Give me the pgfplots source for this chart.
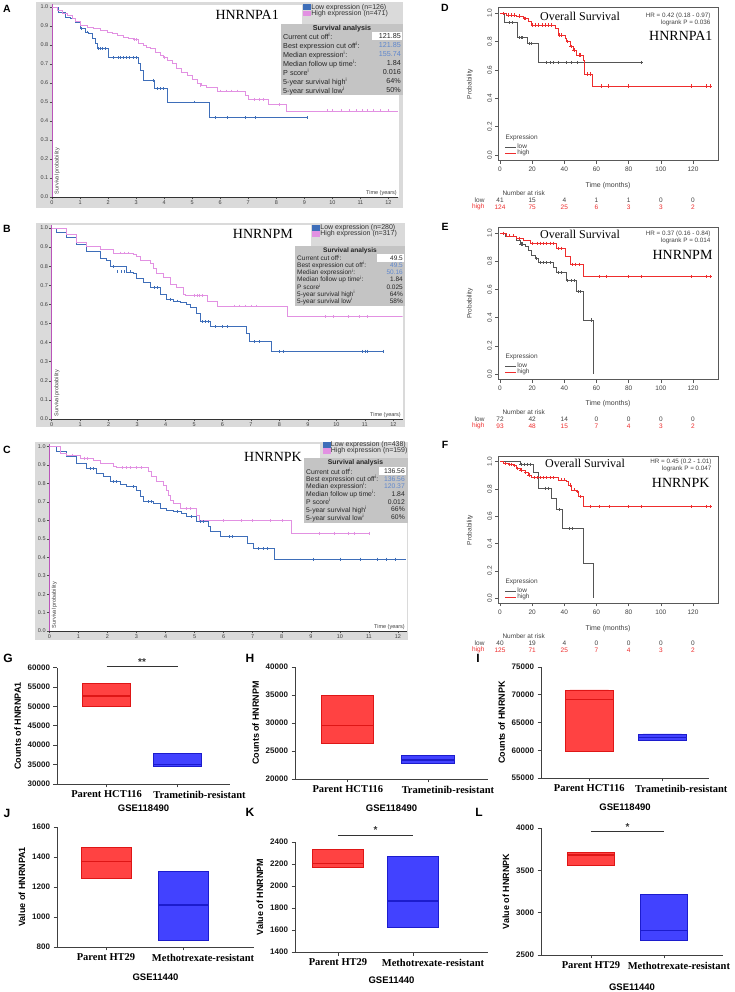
\documentclass[border=0pt]{standalone}
\usepackage{fontspec}
\setmainfont{Liberation Sans}
\newfontfamily\tnr{Liberation Serif}
\usepackage{pgfplots}
\pgfplotsset{compat=1.18}
\usepgfplotslibrary{statistics}

\definecolor{kmbg}{RGB}{218,218,218}
\definecolor{kmtab}{RGB}{196,196,196}
\definecolor{kmblue}{RGB}{62,110,185}
\definecolor{kmpink}{RGB}{226,145,226}
\definecolor{kmaxisp}{RGB}{185,85,185}
\definecolor{valblue}{RGB}{95,135,205}
\definecolor{rgray}{RGB}{85,85,85}
\definecolor{rred}{RGB}{238,45,45}
\definecolor{bxred}{RGB}{255,66,66}
\definecolor{bxredl}{RGB}{222,22,22}
\definecolor{bxblue}{RGB}{66,66,255}
\definecolor{bxbluel}{RGB}{28,28,205}

\newcommand{\fs}[1]{\fontsize{#1}{#1}\selectfont}
\newcommand{\supi}{\textsuperscript{i}}
\newcommand{\trow}[3]{\node[anchor=west,font=\fs{\tbF},text=black!85,inner sep=0pt] at (\tbL,#1) {#2};\node[anchor=east,font=\fs{\tbF},text=black!85,inner sep=0pt] at (\tbR,#1) {#3};}
\newcommand{\riskrow}[9]{\foreach \xx/\vv in {500/#3,532.2/#4,564.3/#5,596.5/#6,628.6/#7,660.8/#8,693/#9}{\node[font=\fs{6.5},text=#2] at (\xx,#1) {\vv};}}

\pgfplotsset{
  kmax/.style={
    scale only axis, anchor=south west, xmin=0, ymin=0, ymax=1.015,
    axis x line=bottom, axis y line=left,
    axis line style={-},
    x axis line style={-, black!80, line width=0.6pt},
    y axis line style={-, kmaxisp, line width=0.9pt},
    xtick={0,1,2,3,4,5,6,7,8,9,10,11,12},
    ytick={0,0.1,0.2,0.3,0.4,0.5,0.6,0.7,0.8,0.9,1.0},
    tick align=outside, major tick length=2.5pt,
    tick style={black!70, line width=0.5pt},
    tick label style={font=\fs{5.5}, text=black!75, inner sep=1pt},
    yticklabel style={/pgf/number format/.cd, fixed, fixed zerofill, precision=1},
    /pgf/number format/assume math mode=true,
    legend style={draw=none, fill=none, font=\fs{7}, inner sep=0pt, row sep=-1.5pt,
      nodes={inner sep=0.5pt, text=black!80}},
    legend cell align=left,
    legend image code/.code={\fill[##1] (0pt,-2.4pt) rectangle (7pt,2.4pt);},
  },
  kmlo/.style={const plot, color=kmblue, line width=0.7pt, mark=none},
  kmhi/.style={const plot, color=kmpink, line width=0.7pt, mark=none},
  kmcen/.style={only marks, mark=|, mark size=1.4pt, mark options={line width=0.5pt}, forget plot},
  rax/.style={scale only axis, anchor=south west, width=219.5pt,
    xmin=-1, xmax=135.5, ymin=-0.04, ymax=1.04,
    xtick={0,20,40,60,80,100,120}, ytick={0,0.2,0.4,0.6,0.8,1.0},
    tick pos=left,
    axis line style={black!65, line width=0.6pt},
    tick align=outside, major tick length=3pt,
    tick style={black!65, line width=0.5pt},
    tick label style={font=\fs{6.5}, text=black!75},
    yticklabel style={rotate=90, anchor=south, /pgf/number format/.cd, fixed, fixed zerofill, precision=1},
    /pgf/number format/assume math mode=true,
    legend style={draw=none, fill=none, font=\fs{6.5}, inner sep=0pt, row sep=-1.5pt,
      nodes={inner sep=0.5pt, text=black!75}},
    legend cell align=left,
    legend image code/.code={\draw[##1, line width=0.6pt] (0pt,0pt) -- (11pt,0pt);},
  },
  rlo/.style={const plot, color=rgray, line width=0.6pt, mark=none},
  rhi/.style={const plot, color=rred, line width=0.6pt, mark=none},
  rcen/.style={only marks, mark=+, mark size=1.6pt, mark options={line width=0.5pt}, forget plot},
  boxax/.style={scale only axis, anchor=south west,
    axis x line=bottom, axis y line=left,
    axis line style={-, black!75, line width=0.8pt},
    xtick={1}, extra x ticks={2},
    tick align=outside, major tick length=3.5pt,
    tick style={black!75, line width=0.8pt},
    xticklabel style={font=\tnr\bfseries\fs{10.5}, text=black},
    scaled y ticks=false,
    yticklabel style={font=\bfseries\fs{8}, text=black!90, /pgf/number format/.cd, fixed, 1000 sep={}},
    /pgf/number format/assume math mode=true,
    xlabel style={font=\bfseries\fs{9.5}, at={(axis description cs:0.5,0)}, anchor=center},
    ylabel style={font=\bfseries\fs{9}},
    clip=false,
    boxplot/draw direction=y,
    boxplot/every median/.style={line width=1.4pt},
  },
  rbox/.style={fill=bxred, draw=bxredl, line width=0.9pt},
  bbox/.style={fill=bxblue, draw=bxbluel, line width=0.9pt},
}

\begin{document}
\begin{tikzpicture}
\path[use as bounding box] (0pt,0pt) rectangle (735pt,992pt);
\begin{scope}[x=1pt,y=1pt]
\fill[kmbg] (36,784) rectangle (403,990);
\fill[white] (52,795) rectangle (399,987);
\fill[kmbg] (302,968) rectangle (403,990);
\fill[kmbg] (36,565) rectangle (405,769);
\fill[white] (51.7,573) rectangle (403,767);
\fill[kmbg] (311,746) rectangle (405,769);
\fill[kmbg] (35,352) rectangle (408,550);
\fill[white] (49.3,361) rectangle (407,548);
\fill[kmbg] (320,534) rectangle (408,550);
\end{scope}

% ---------------- A
\begin{axis}[kmax, at={(52pt,795pt)}, width=346pt, height=192.9pt, xmax=12.34,
  legend style={at={(axis description cs:0.7254,1.0044)}, anchor=north west}]
\addplot[kmlo] coordinates {(0,1) (0.24,0.974) (0.48,0.947) (0.65,0.939) (0.83,0.921) (1.01,0.886) (1.19,0.868) (1.31,0.860) (1.43,0.833) (1.54,0.807) (1.60,0.781) (2.02,0.733) (3.09,0.702) (3.15,0.667) (3.27,0.614) (3.66,0.570) (4.10,0.500) (5.62,0.418) (9.09,0.418)};
\addlegendentry{Low expression (n=126)}
\addplot[kmhi] coordinates {(0,1) (0.18,0.982) (0.36,0.965) (0.53,0.956) (0.71,0.939) (0.83,0.926) (1.01,0.904) (1.25,0.895) (1.48,0.886) (1.72,0.877) (1.96,0.868) (2.14,0.860) (2.32,0.851) (2.55,0.842) (2.73,0.833) (2.91,0.828) (3.09,0.807) (3.27,0.798) (3.38,0.789) (3.50,0.781) (3.68,0.763) (3.86,0.746) (3.98,0.733) (4.10,0.719) (4.28,0.702) (4.45,0.675) (4.63,0.658) (4.81,0.640) (4.99,0.618) (5.17,0.596) (5.34,0.588) (5.52,0.575) (5.88,0.558) (6.89,0.535) (7.01,0.514) (7.72,0.488) (8.35,0.453) (12.34,0.453)};
\addlegendentry{High expression (n=471)}
\addplot[kmcen, color=kmblue] coordinates {(1.05,0.886) (1.25,0.868) (1.65,0.781) (1.72,0.781) (1.8,0.781) (1.9,0.781) (2.2,0.733) (2.35,0.733) (2.45,0.733) (2.55,0.733) (2.65,0.733) (2.75,0.733) (2.9,0.733) (3.0,0.733) (3.62,0.614) (3.75,0.570) (3.85,0.570) (3.95,0.570) (5.08,0.500) (5.82,0.418) (6.24,0.418) (6.89,0.418) (7.24,0.418) (9.09,0.418)};
\addplot[kmcen, color=kmpink] coordinates {(2.95,0.828) (3.02,0.828) (4.0,0.733) (4.6,0.658) (5.3,0.588) (6.0,0.558) (6.2,0.558) (6.4,0.558) (6.6,0.558) (7.2,0.514) (7.4,0.514) (7.55,0.514) (8.1,0.488) (9.8,0.453) (10.0,0.453) (10.3,0.453) (10.6,0.453) (10.85,0.453) (11.05,0.453) (11.25,0.453) (11.45,0.453) (11.7,0.453) (12.0,0.453)};
\end{axis}

% ---------------- B
\begin{axis}[kmax, at={(51.7pt,573pt)}, width=351pt, height=193.9pt, xmax=12.33,
  legend style={at={(axis description cs:0.7416,1.0083)}, anchor=north west}]
\addplot[kmlo] coordinates {(0,1) (0.18,0.977) (0.53,0.950) (0.88,0.914) (1.23,0.878) (1.70,0.842) (1.93,0.833) (2.05,0.797) (2.63,0.770) (2.87,0.761) (2.99,0.734) (3.22,0.716) (3.45,0.689) (3.81,0.653) (4.04,0.627) (4.27,0.618) (4.51,0.609) (4.74,0.600) (4.86,0.582) (5.09,0.555) (5.21,0.510) (5.59,0.483) (6.85,0.447) (6.94,0.406) (7.73,0.354) (11.65,0.354)};
\addlegendentry{Low expression (n=280)}
\addplot[kmhi] coordinates {(0,1) (0.53,0.968) (0.88,0.923) (1.23,0.905) (1.70,0.887) (2.17,0.869) (2.87,0.860) (2.99,0.851) (3.10,0.833) (3.45,0.815) (3.57,0.788) (3.69,0.761) (3.92,0.743) (4.16,0.707) (4.39,0.689) (4.63,0.653) (4.68,0.648) (5.47,0.618) (5.82,0.591) (8.28,0.537) (12.33,0.537)};
\addlegendentry{High expression (n=317)}
\addplot[kmcen, color=kmblue] coordinates {(2.15,0.797) (2.3,0.770) (2.45,0.770) (2.55,0.770) (2.75,0.770) (3.6,0.689) (3.7,0.689) (4.15,0.627) (4.4,0.618) (5.3,0.510) (5.4,0.510) (5.5,0.510) (5.75,0.483) (6.0,0.483) (6.15,0.483) (7.1,0.406) (7.3,0.406) (8.0,0.354) (8.15,0.354) (10.9,0.354) (11.0,0.354) (11.1,0.354) (11.65,0.354)};
\addplot[kmcen, color=kmpink] coordinates {(2.4,0.869) (2.55,0.869) (2.7,0.869) (5.0,0.648) (5.1,0.648) (5.2,0.648) (5.3,0.648) (6.4,0.591) (6.6,0.591) (6.8,0.591) (7.0,0.591) (7.2,0.591) (9.6,0.537) (9.9,0.537) (10.4,0.537) (10.8,0.537) (11.1,0.537)};
\end{axis}

% ---------------- C
\begin{axis}[kmax, at={(49.3pt,361pt)}, width=357.7pt, height=187.1pt, xmax=12.31,
  legend style={at={(axis description cs:0.7638,1.0155)}, anchor=north west}]
\addplot[kmlo] coordinates {(0,1) (0.25,0.973) (0.60,0.946) (0.94,0.910) (1.28,0.882) (1.63,0.855) (1.86,0.837) (2.09,0.810) (2.43,0.796) (2.66,0.783) (3.00,0.765) (3.12,0.729) (3.23,0.702) (3.58,0.693) (3.81,0.665) (4.04,0.656) (4.27,0.647) (4.55,0.638) (4.72,0.620) (5.07,0.593) (5.47,0.566) (5.53,0.539) (5.87,0.512) (6.81,0.476) (7.02,0.448) (7.73,0.390) (12.29,0.390)};
\addlegendentry{Low expression (n=438)}
\addplot[kmhi] coordinates {(0,1) (0.37,0.964) (0.60,0.955) (1.06,0.937) (1.51,0.928) (1.74,0.910) (2.20,0.892) (2.32,0.886) (3.41,0.864) (3.52,0.837) (3.69,0.810) (3.92,0.792) (4.04,0.765) (4.09,0.738) (4.15,0.711) (4.27,0.693) (4.50,0.665) (5.07,0.629) (5.18,0.599) (8.34,0.530) (11.03,0.530)};
\addlegendentry{High expression (n=159)}
\addplot[kmcen, color=kmblue] coordinates {(1.4,0.882) (1.5,0.882) (2.2,0.810) (2.3,0.810) (2.9,0.783) (3.4,0.702) (3.5,0.702) (4.4,0.647) (4.9,0.620) (5.2,0.593) (5.3,0.593) (6.2,0.512) (6.3,0.512) (7.2,0.448) (7.35,0.448) (7.5,0.448) (9.1,0.390) (10.0,0.390) (10.7,0.390) (11.3,0.390) (11.6,0.390) (11.9,0.390)};
\addplot[kmcen, color=kmpink] coordinates {(0.8,0.955) (1.2,0.937) (1.3,0.937) (2.5,0.886) (2.65,0.886) (2.8,0.886) (3.0,0.886) (3.15,0.886) (4.7,0.665) (4.85,0.665) (6.0,0.599) (6.6,0.599) (7.0,0.599) (7.6,0.599) (8.0,0.599) (9.3,0.530) (9.8,0.530) (10.3,0.530) (10.5,0.530) (11.0,0.530)};
\end{axis}

% ---------------- D
\begin{axis}[rax, at={(498.4pt,831.3pt)}, height=153pt,
  legend style={at={(axis description cs:0.03,0.112)}, anchor=north west}]
\addplot[rlo] coordinates {(0,1) (2.5,0.934) (10.8,0.828) (17.0,0.788) (23.9,0.654) (87.8,0.654)};
\addlegendentry{low}
\addplot[rhi] coordinates {(0,1) (4.1,0.988) (10.4,0.981) (14.5,0.965) (17.6,0.941) (19.7,0.918) (34.3,0.894) (36.3,0.847) (40.5,0.824) (41.5,0.800) (43.6,0.765) (45.7,0.741) (47.7,0.706) (51.9,0.671) (52.3,0.572) (57.6,0.487) (131.2,0.487)};
\addlegendentry{high}
\addplot[rcen, color=rgray] coordinates {(6,0.934) (7.5,0.934) (12,0.828) (13,0.828) (14,0.828) (18,0.788) (19.5,0.788) (29,0.654) (31,0.654) (33,0.654) (36,0.654) (41,0.654) (44,0.654) (48,0.654) (87.8,0.654)};
\addplot[rcen, color=rred] coordinates {(2,1) (5,0.988) (7,0.988) (9,0.988) (12,0.981) (15,0.965) (16,0.965) (20,0.918) (22,0.918) (24,0.918) (26,0.918) (28,0.918) (30,0.918) (32,0.918) (37,0.847) (38,0.847) (42,0.800) (44,0.765) (46,0.741) (49,0.706) (50,0.706) (54,0.572) (56,0.572) (63,0.487) (67,0.487) (79.5,0.487) (119,0.487) (128,0.487) (131,0.487)};
\end{axis}

% ---------------- E
\begin{axis}[rax, at={(498.4pt,612.4pt)}, height=152pt,
  legend style={at={(axis description cs:0.03,0.1125)}, anchor=north west}]
\addplot[rlo] coordinates {(0,1) (3.1,0.981) (10.4,0.953) (12.5,0.924) (15.6,0.905) (17.6,0.877) (19.7,0.846) (21.8,0.822) (23.9,0.791) (33.2,0.758) (35.3,0.720) (41.5,0.664) (47.7,0.585) (51.9,0.384) (57.7,0.0)};
\addlegendentry{low}
\addplot[rhi] coordinates {(0,1) (4.1,0.981) (10.4,0.964) (14.5,0.948) (18.7,0.929) (35.3,0.893) (40.5,0.839) (43.6,0.780) (51.9,0.692) (131.2,0.692)};
\addlegendentry{high}
\addplot[rcen, color=rgray] coordinates {(6,0.981) (8,0.981) (13,0.924) (14,0.924) (22.5,0.822) (25,0.791) (27,0.791) (29,0.791) (31,0.791) (36,0.720) (38,0.720) (42,0.664) (44,0.664) (46,0.664) (48.5,0.585) (50,0.585) (57,0.384)};
\addplot[rcen, color=rred] coordinates {(2,1) (6,0.981) (8,0.981) (12,0.964) (20,0.929) (23,0.929) (25,0.929) (27,0.929) (29,0.929) (31,0.929) (33,0.929) (36.5,0.893) (38,0.893) (45,0.780) (47,0.780) (49,0.780) (62,0.692) (66,0.692) (79.5,0.692) (88,0.692) (119,0.692) (128,0.692) (131,0.692)};
\end{axis}

% ---------------- F
\begin{axis}[rax, at={(498.4pt,388.5pt)}, height=147.2pt,
  legend style={at={(axis description cs:0.03,0.109)}, anchor=north west}]
\addplot[rlo] coordinates {(0,1) (12.5,0.981) (20.8,0.920) (23.9,0.806) (32.2,0.733) (35.3,0.648) (39.0,0.510) (51.9,0.252) (57.7,0.0)};
\addlegendentry{low}
\addplot[rhi] coordinates {(0,1) (2.1,0.988) (5.2,0.981) (8.3,0.971) (10.4,0.951) (12.5,0.939) (15.6,0.920) (17.6,0.903) (19.7,0.883) (36.3,0.867) (41.5,0.854) (42.6,0.830) (44.6,0.794) (47.7,0.782) (48.8,0.745) (51.9,0.672) (131.2,0.672)};
\addlegendentry{high}
\addplot[rcen, color=rgray] coordinates {(13,0.981) (15,0.981) (17,0.981) (19,0.981) (28,0.806) (30,0.806) (37,0.648) (43,0.510) (45,0.510)};
\addplot[rcen, color=rred] coordinates {(3,0.988) (6,0.981) (7,0.981) (9,0.971) (11,0.951) (13,0.939) (16,0.920) (18,0.903) (21,0.883) (23,0.883) (25,0.883) (27,0.883) (29,0.883) (31,0.883) (33,0.883) (38,0.867) (40,0.867) (43.5,0.830) (46,0.794) (48,0.782) (50,0.745) (56,0.672) (62,0.672) (68,0.672) (79.5,0.672) (88,0.672) (119,0.672) (128,0.672) (131,0.672)};
\end{axis}

% ---------------- G
\begin{axis}[boxax, at={(57pt,208pt)}, width=173pt, height=116.3pt, xmin=0.3, xmax=2.74,
  ymin=30000, ymax=60000, ytick={30000,35000,40000,45000,50000,55000,60000},
  xticklabels={Parent HCT116}, extra x tick labels={Trametinib-resistant},
  extra x tick style={tick label style={xshift=22pt}},
  xlabel style={yshift=-24pt},
  xlabel={GSE118490}, ylabel={Counts of HNRNPA1}]
\addplot[rbox, boxplot prepared={draw position=1, box extend=0.68, lower whisker=50100, lower quartile=50100, median=52700, upper quartile=56000, upper whisker=56000}] coordinates {};
\addplot[bbox, boxplot prepared={draw position=2, box extend=0.68, lower whisker=34600, lower quartile=34600, median=35100, upper quartile=37800, upper whisker=37800}] coordinates {};
\draw[black!80, line width=0.9pt] (axis cs:1,60250) -- (axis cs:2,60250) node[midway, above, font=\bfseries\fs{10}, inner sep=1pt] {**};
\end{axis}

% ---------------- H
\begin{axis}[boxax, at={(295pt,213pt)}, width=193pt, height=112pt, xmin=0.34, xmax=2.75,
  ymin=20000, ymax=40000, ytick={20000,25000,30000,35000,40000},
  xticklabels={Parent HCT116}, extra x tick labels={Trametinib-resistant},
  extra x tick style={tick label style={xshift=20pt}},
  xlabel style={yshift=-29pt},
  xlabel={GSE118490}, ylabel={Counts of HNRNPM}]
\addplot[rbox, boxplot prepared={draw position=1, box extend=0.65, lower whisker=26300, lower quartile=26300, median=29600, upper quartile=34900, upper whisker=34900}] coordinates {};
\addplot[bbox, boxplot prepared={draw position=2, box extend=0.65, lower whisker=22700, lower quartile=22700, median=23400, upper quartile=24150, upper whisker=24150}] coordinates {};
\end{axis}

% ---------------- I
\begin{axis}[boxax, at={(541pt,214pt)}, width=168pt, height=111pt, xmin=0.34, xmax=2.64,
  ymin=55000, ymax=75000, ytick={55000,60000,65000,70000,75000},
  xticklabels={Parent HCT116}, extra x tick labels={Trametinib-resistant},
  extra x tick style={tick label style={xshift=19pt}},
  xlabel style={yshift=-29pt},
  xlabel={GSE118490}, ylabel={Counts of HNRNPK}]
\addplot[rbox, boxplot prepared={draw position=1, box extend=0.66, lower whisker=59740, lower quartile=59740, median=69180, upper quartile=70860, upper whisker=70860}] coordinates {};
\addplot[bbox, boxplot prepared={draw position=2, box extend=0.66, lower whisker=61720, lower quartile=61720, median=62330, upper quartile=62930, upper whisker=62930}] coordinates {};
\end{axis}

% ---------------- J
\begin{axis}[boxax, at={(57pt,45pt)}, width=197pt, height=120pt, xmin=0.364, xmax=2.92,
  ymin=800, ymax=1600, ytick={800,1000,1200,1400,1600},
  xticklabels={Parent HT29}, extra x tick labels={Methotrexate-resistant},
  extra x tick style={tick label style={xshift=20pt}},
  xlabel style={yshift=-30pt},
  xlabel={GSE11440}, ylabel={Value of HNRNPA1}]
\addplot[rbox, boxplot prepared={draw position=1, box extend=0.65, lower whisker=1258, lower quartile=1258, median=1369, upper quartile=1465, upper whisker=1465}] coordinates {};
\addplot[bbox, boxplot prepared={draw position=2, box extend=0.65, lower whisker=842, lower quartile=842, median=1080, upper quartile=1302, upper whisker=1302}] coordinates {};
\end{axis}

% ---------------- K
\begin{axis}[boxax, at={(295pt,40pt)}, width=193pt, height=110pt, xmin=0.427, xmax=3.0,
  ymin=1400, ymax=2400, ytick={1400,1600,1800,2000,2200,2400},
  xticklabels={Parent HT29}, extra x tick labels={Methotrexate-resistant},
  extra x tick style={tick label style={xshift=20pt}},
  xlabel style={yshift=-28pt},
  xlabel={GSE11440}, ylabel={Value of HNRNPM}]
\addplot[rbox, boxplot prepared={draw position=1, box extend=0.69, lower whisker=2170, lower quartile=2170, median=2206, upper quartile=2334, upper whisker=2334}] coordinates {};
\addplot[bbox, boxplot prepared={draw position=2, box extend=0.69, lower whisker=1625, lower quartile=1625, median=1864, upper quartile=2266, upper whisker=2266}] coordinates {};
\draw[black!80, line width=0.9pt] (axis cs:1,2464) -- (axis cs:2,2464) node[midway, above, font=\bfseries\fs{10}, inner sep=1pt] {*};
\end{axis}

% ---------------- L
\begin{axis}[boxax, at={(541pt,37pt)}, width=182pt, height=127pt, xmin=0.315, xmax=2.81,
  ymin=2500, ymax=4000, ytick={2500,3000,3500,4000},
  xticklabels={Parent HT29}, extra x tick labels={Methotrexate-resistant},
  extra x tick style={tick label style={xshift=15pt}},
  xlabel style={yshift=-32pt},
  xlabel={GSE11440}, ylabel={Value of HNRNPK}]
\addplot[rbox, boxplot prepared={draw position=1, box extend=0.64, lower whisker=3555, lower quartile=3555, median=3681, upper quartile=3713, upper whisker=3713}] coordinates {};
\addplot[bbox, boxplot prepared={draw position=2, box extend=0.64, lower whisker=2669, lower quartile=2669, median=2787, upper quartile=3220, upper whisker=3220}] coordinates {};
\draw[black!80, line width=0.9pt] (axis cs:1,3956) -- (axis cs:2,3956) node[midway, above, font=\bfseries\fs{10}, inner sep=1pt] {*};
\end{axis}

\begin{scope}[x=1pt,y=1pt]
% ---- A overlays
\node[font=\tnr\fs{14}, anchor=east, inner sep=0pt] at (279,977) {HNRNPA1};
\node[font=\fs{5.5}, anchor=south east, text=black!75, inner sep=1pt] at (398,795.5) {Time (years)};
\node[font=\fs{5.5}, rotate=90, anchor=west, text=black!75, inner sep=0.5pt] at (57.2,797) {Survival probability};
\fill[kmtab] (281,897) rectangle (403,968);
\fill[white] (372,951.5) rectangle (402,959.5);
\node[font=\bfseries\fs{7.2}, text=black!85] at (342,963.5) {Survival analysis};
\def\tbL{283}\def\tbR{401}\def\tbF{7.2}
\trow{955.5}{Current cut off\supi:}{121.85}
\trow{946.5}{Best expression cut off\supi:}{\color{valblue}121.85}
\trow{937.5}{Median expression\supi:}{\color{valblue}155.74}
\trow{928.5}{Median follow up time\supi:}{1.84}
\trow{919.5}{P score\supi}{0.016}
\trow{910.5}{5-year survival high\supi}{64\%}
\trow{901.5}{5-year survival low\supi}{50\%}
% ---- B overlays
\node[font=\tnr\fs{14}, anchor=east, inner sep=0pt] at (293,758) {HNRNPM};
\node[font=\fs{5.5}, anchor=south east, text=black!75, inner sep=1pt] at (402,573.5) {Time (years)};
\node[font=\fs{5.5}, rotate=90, anchor=west, text=black!75, inner sep=0.5pt] at (57,575) {Survival probability};
\fill[kmtab] (295,686) rectangle (405,746);
\fill[white] (377,730) rectangle (404,738);
\node[font=\bfseries\fs{6.6}, text=black!85] at (350,741) {Survival analysis};
\def\tbL{297}\def\tbR{403}\def\tbF{6.5}
\trow{734}{Current cut off\supi:}{49.5}
\trow{726.8}{Best expression cut off\supi:}{\color{valblue}49.5}
\trow{719.6}{Median expression\supi:}{\color{valblue}50.16}
\trow{712.4}{Median follow up time\supi:}{1.84}
\trow{705.2}{P score\supi}{0.025}
\trow{698}{5-year survival high\supi}{64\%}
\trow{690.8}{5-year survival low\supi}{58\%}
% ---- C overlays
\node[font=\tnr\fs{14}, anchor=east, inner sep=0pt] at (302,535) {HNRNPK};
\node[font=\fs{5.5}, anchor=south east, text=black!75, inner sep=1pt] at (406,361.5) {Time (years)};
\node[font=\fs{5.5}, rotate=90, anchor=west, text=black!75, inner sep=0.5pt] at (54.5,363) {Survival probability};
\fill[kmtab] (304,469) rectangle (407.5,534);
\fill[white] (379,517) rectangle (405.5,525);
\node[font=\bfseries\fs{6.8}, text=black!85] at (355.5,529) {Survival analysis};
\def\tbL{306}\def\tbR{405}\def\tbF{6.8}
\trow{521}{Current cut off\supi:}{136.56}
\trow{513.3}{Best expression cut off\supi:}{\color{valblue}136.56}
\trow{505.7}{Median expression\supi:}{\color{valblue}120.37}
\trow{498}{Median follow up time\supi:}{1.84}
\trow{490.2}{P score\supi}{0.012}
\trow{482.5}{5-year survival high\supi}{66\%}
\trow{474.5}{5-year survival low\supi}{60\%}
% ---- D overlays
\node[font=\tnr\fs{12}] at (580,976) {Overall Survival};
\node[font=\fs{6.3}, anchor=east, text=black!75] at (714,976.5) {HR = 0.42 (0.18 - 0.97)};
\node[font=\fs{6.3}, anchor=east, text=black!75] at (714,969) {logrank P = 0.036};
\node[font=\tnr\fs{14}, anchor=east] at (716,956) {HNRNPA1};
\node[font=\fs{6.5}, anchor=west, text=black!75] at (502,854) {Expression};
\node[font=\fs{7}, text=black!75] at (608,806) {Time (months)};
\node[font=\fs{6.5}, anchor=west, text=black!75] at (499,799) {Number at risk};
\node[font=\fs{6.5}, anchor=east, text=black!75] at (488,792) {low};
\node[font=\fs{6.5}, anchor=east, text=rred] at (488,785) {high};
\riskrow{792}{black!75}{41}{15}{4}{1}{1}{0}{0}
\riskrow{785}{rred}{124}{75}{25}{6}{3}{3}{2}
\node[font=\fs{6.5}, rotate=90, text=black!75] at (470,908) {Probability};
% ---- E overlays
\node[font=\tnr\fs{12}] at (580,758) {Overall Survival};
\node[font=\fs{6.3}, anchor=east, text=black!75] at (714,758.5) {HR = 0.37 (0.16 - 0.84)};
\node[font=\fs{6.3}, anchor=east, text=black!75] at (714,751) {logrank P = 0.014};
\node[font=\tnr\fs{14}, anchor=east] at (716,737) {HNRNPM};
\node[font=\fs{6.5}, anchor=west, text=black!75] at (502,635) {Expression};
\node[font=\fs{7}, text=black!75] at (608,588) {Time (months)};
\node[font=\fs{6.5}, anchor=west, text=black!75] at (499,580) {Number at risk};
\node[font=\fs{6.5}, anchor=east, text=black!75] at (488,573) {low};
\node[font=\fs{6.5}, anchor=east, text=rred] at (488,566) {high};
\riskrow{573}{black!75}{72}{42}{14}{0}{0}{0}{0}
\riskrow{566}{rred}{93}{48}{15}{7}{4}{3}{2}
\node[font=\fs{6.5}, rotate=90, text=black!75] at (470,688.5) {Probability};
% ---- F overlays
\node[font=\tnr\fs{12}] at (585,529) {Overall Survival};
\node[font=\fs{6.3}, anchor=east, text=black!75] at (715,530) {HR = 0.45 (0.2 - 1.01)};
\node[font=\fs{6.3}, anchor=east, text=black!75] at (715,523) {logrank P = 0.047};
\node[font=\tnr\fs{14}, anchor=east] at (713,509) {HNRNPK};
\node[font=\fs{6.5}, anchor=west, text=black!75] at (502,410) {Expression};
\node[font=\fs{7}, text=black!75] at (608,363) {Time (months)};
\node[font=\fs{6.5}, anchor=west, text=black!75] at (499,356) {Number at risk};
\node[font=\fs{6.5}, anchor=east, text=black!75] at (488,349) {low};
\node[font=\fs{6.5}, anchor=east, text=rred] at (488,342) {high};
\riskrow{349}{black!75}{40}{19}{4}{0}{0}{0}{0}
\riskrow{342}{rred}{125}{71}{25}{7}{4}{3}{2}
\node[font=\fs{6.5}, rotate=90, text=black!75] at (470,462) {Probability};
% ---- panel letters
\foreach \lx/\ly/\lt in {7/983/A,7/763/B,7/542/C,445/984/D,445/765/E,445/547/F}{\node[font=\bfseries\fs{10.5}] at (\lx,\ly) {\lt};}
\foreach \lx/\ly/\lt in {8/334/G,250/334/H,478/334/I,7/179/J,250/180/K,479/180/L}{\node[font=\bfseries\fs{12}] at (\lx,\ly) {\lt};}
\end{scope}
\end{tikzpicture}
\end{document}
